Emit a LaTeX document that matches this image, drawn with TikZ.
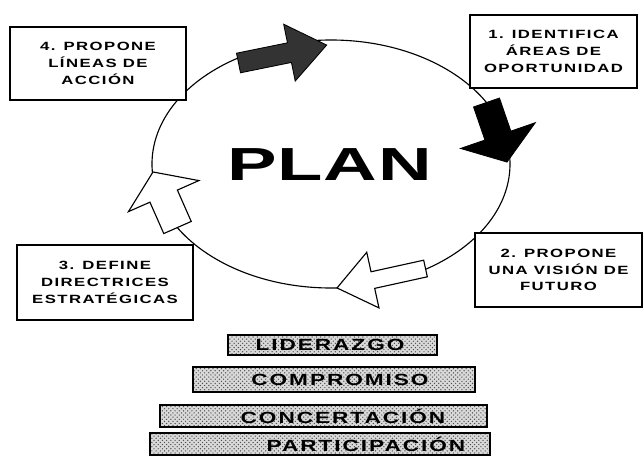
\documentclass[tikz,border=0pt]{standalone}
\usepackage{fontspec}
\newfontfamily\widefont[FakeStretch=1.4,LetterSpace=12]{Liberation Sans}
\newfontfamily\planfont[FakeStretch=1.6,LetterSpace=2]{Liberation Sans}
\usetikzlibrary{positioning,patterns}

% block arrow: tail, angle, length, shaft half width, head half width, head length, style
\newcommand\blockarrow[7]{%
  \draw[#7, shift={(#1)}, rotate=#2]
    (0,-#4) -- (#3-#6,-#4) -- (#3-#6,-#5) -- (#3,0) -- (#3-#6,#5) -- (#3-#6,#4) -- (0,#4) -- cycle;}

\begin{document}
\begin{tikzpicture}[x=0.025cm, y=-0.025cm,
    stepbox/.style={draw, line width=0.9pt, fill=white, align=center, inner sep=0pt,
      font=\widefont\bfseries\fontsize{8.5}{12}\selectfont},
    bar/.style={draw, line width=1pt, preaction={fill=black!15},
      pattern=crosshatch dots, pattern color=black!70, inner sep=0pt},
    bartext/.style={font=\widefont\bfseries\fontsize{11.5}{13}\selectfont, inner sep=1pt}]
%
    \useasboundingbox (0,0) rectangle (644,472);
%
    % the cycle
    \coordinate (c) at (331,164);
    \draw[line width=0.8pt] (c) ellipse (179 and 124);
    \node (plan) at (329.5,165) {\planfont\bfseries\fontsize{33}{40}\selectfont PLAN};
%
    \blockarrow{238.5,63}{11.5}{90}{10}{29}{38}{fill=black!80, line width=0.6pt}
    \blockarrow{486.5,102.5}{-71}{63}{13.7}{39.5}{28}{fill=black, line width=0.6pt}
    \blockarrow{425.5,268.5}{-167.6}{90.6}{8.5}{28.5}{36.7}{fill=white, line width=0.8pt}
    \blockarrow{177.5,227.5}{113.8}{60.7}{15}{38.5}{26.4}{fill=white, line width=0.8pt}
%
    \node[stepbox, minimum width=4.4cm, minimum height=1.825cm] (box4) at (98,63.5)
      {4. PROPONE\\LÍNEAS DE\\ACCIÓN};
    \node[stepbox, minimum width=4.175cm, minimum height=1.825cm] (box1) at (553.5,51.5)
      {1. IDENTIFICA\\ÁREAS DE\\OPORTUNIDAD};
    \node[stepbox, minimum width=4.4cm, minimum height=1.875cm] (box3) at (105,282.5)
      {3. DEFINE\\DIRECTRICES\\ESTRATÉGICAS};
    \node[stepbox, minimum width=4.175cm, minimum height=1.85cm] (box2) at (558.5,270)
      {2. PROPONE\\UNA VISIÓN DE\\FUTURO};
%
    % the four bars
    \node[bar, minimum width=5.225cm, minimum height=0.5cm] (lid) at (332.5,345) {};
    \node[bar, minimum width=7.05cm, minimum height=0.625cm] (com) at (334,379.5) {};
    \node[bar, minimum width=8.175cm, minimum height=0.55cm] (con) at (323.5,416) {};
    \node[bar, minimum width=8.5cm, minimum height=0.55cm] (par) at (320,444) {};
    \node[bartext] (lidtxt) at (330,345) {LIDERAZGO};
    \node[bartext] (comtxt) at (340,379.5) {COMPROMISO};
    \node[bartext] (contxt) at (343,416) {CONCERTACIÓN};
    \node[bartext] (partxt) at (366,444) {PARTICIPACIÓN};
  \end{tikzpicture}
\end{document}
